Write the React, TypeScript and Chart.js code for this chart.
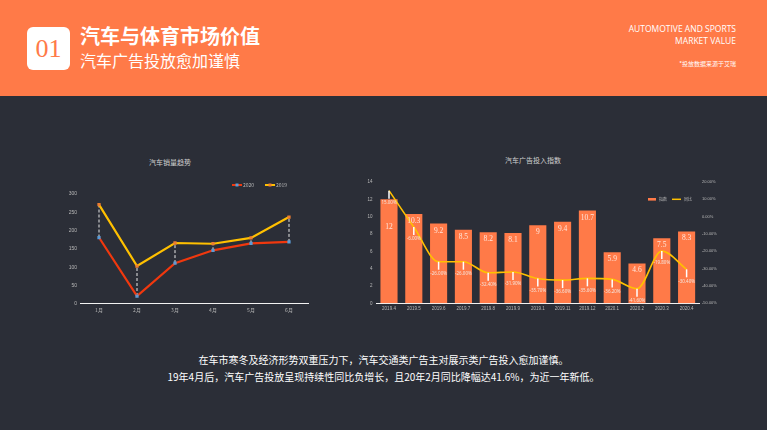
import React, { useEffect, useRef } from 'react';
import { Chart, registerables } from 'chart.js';

Chart.register(...registerables);

// ---------- data ----------
const salesMonths = ['1月', '2月', '3月', '4月', '5月', '6月'];
const sales2020 = [181, 21, 111, 146, 165, 169];
const sales2019 = [271, 103, 166, 164, 180, 237];
const salesSeriesNames = ['2020', '2019'];

const adMonths = ['2019.4', '2019.5', '2019.6', '2019.7', '2019.8', '2019.9', '2019.1', '2019.11', '2019.12', '2020.1', '2020.2', '2020.3', '2020.4'];
const adIndex = [12, 10.3, 9.2, 8.5, 8.2, 8.1, 9, 9.4, 10.7, 5.9, 4.6, 7.5, 8.3];
const adYoY = [15, -6, -26, -26, -32.4, -31.9, -35.7, -36.6, -35.6, -36.2, -41.6, -19.8, -30.4];
const adSeriesNames = ['指数', '同比'];

const ORANGE = '#ff7a48';
const BG = '#2b2e37';
const TICK = '#b8b8b8';
const CJK = '"Noto Sans CJK SC", "Noto Sans", sans-serif';

function SalesChart() {
  const ref = useRef<HTMLCanvasElement>(null);
  useEffect(() => {
    const dropLines = {
      id: 'dropLines',
      beforeDatasetsDraw(chart: any) {
        const ctx = chart.ctx;
        const a = chart.getDatasetMeta(0).data;
        const b = chart.getDatasetMeta(1).data;
        ctx.save();
        ctx.strokeStyle = '#e8e8e8';
        ctx.lineWidth = 1;
        ctx.setLineDash([3, 2]);
        for (let i = 0; i < a.length; i++) {
          ctx.beginPath();
          ctx.moveTo(a[i].x, a[i].y);
          ctx.lineTo(b[i].x, b[i].y);
          ctx.stroke();
        }
        ctx.restore();
      },
    };
    const legend = {
      id: 'salesLegend',
      afterDraw(chart: any) {
        const ctx = chart.ctx;
        const ca = chart.chartArea;
        const y = ca.top - 9;
        const starts = [ca.left + 152, ca.left + 185];
        ctx.save();
        chart.data.datasets.forEach((ds: any, i: number) => {
          const x = starts[i];
          ctx.strokeStyle = ds.borderColor;
          ctx.lineWidth = 2;
          ctx.beginPath();
          ctx.moveTo(x, y);
          ctx.lineTo(x + 10, y);
          ctx.stroke();
          ctx.fillStyle = ds.pointBackgroundColor;
          ctx.fillRect(x + 3.5, y - 1.5, 3, 3);
          ctx.fillStyle = TICK;
          ctx.font = '5px ' + CJK;
          ctx.textBaseline = 'middle';
          ctx.textAlign = 'left';
          ctx.fillText(ds.label, x + 11, y);
        });
        ctx.restore();
      },
    };
    const chart = new Chart(ref.current as HTMLCanvasElement, {
      type: 'line',
      data: {
        labels: salesMonths,
        datasets: [
          {
            label: salesSeriesNames[0],
            data: sales2020,
            borderColor: '#f0380e',
            pointBackgroundColor: '#5b9bd5',
            pointBorderWidth: 0,
            pointStyle: 'rect',
            pointRadius: 2.3,
            borderWidth: 2.2,
            tension: 0,
          },
          {
            label: salesSeriesNames[1],
            data: sales2019,
            borderColor: '#ffc000',
            pointBackgroundColor: '#ed7d31',
            pointBorderWidth: 0,
            pointStyle: 'rect',
            pointRadius: 2.3,
            borderWidth: 2.2,
            tension: 0,
          },
        ],
      },
      options: {
        responsive: false,
        animation: false,
        layout: { padding: { left: 0, top: 44, right: 12, bottom: 0 } },
        plugins: { legend: { display: false }, title: { display: false }, tooltip: { enabled: false } },
        scales: {
          x: {
            offset: true,
            grid: { display: false, drawTicks: false },
            border: { display: true, color: '#f2f2f2', width: 1 },
            ticks: { color: TICK, font: { size: 5, family: CJK }, padding: 3 },
            afterFit(s: any) { s.height = 16.3; },
          },
          y: {
            min: 0,
            max: 300,
            grid: { display: false, drawTicks: false },
            border: { display: false },
            ticks: { stepSize: 50, color: TICK, font: { size: 5 }, padding: 3 },
            afterFit(s: any) { s.width = 40; },
          },
        },
      },
      plugins: [dropLines, legend],
    } as any);
    return () => chart.destroy();
  }, []);
  return (
    <canvas
      ref={ref}
      width={280}
      height={170}
      style={{ position: 'absolute', left: 40, top: 150, width: 280, height: 170 }}
    />
  );
}

function AdChart() {
  const ref = useRef<HTMLCanvasElement>(null);
  useEffect(() => {
    const labels = {
      id: 'adLabels',
      afterDatasetsDraw(chart: any) {
        const ctx = chart.ctx;
        const bars = chart.getDatasetMeta(0).data;
        const pts = chart.getDatasetMeta(1).data;
        ctx.save();
        const yoyLabelY: number[] = [];
        pts.forEach((p: any, i: number) => {
          ctx.strokeStyle = '#ffffff';
          ctx.lineWidth = 1.5;
          ctx.beginPath();
          ctx.moveTo(p.x, p.y);
          ctx.lineTo(p.x, p.y + 8);
          ctx.stroke();
          const ly = p.y + 12;
          yoyLabelY.push(ly);
          ctx.fillStyle = '#f4e4dc';
          ctx.font = '4.5px "Noto Sans", sans-serif';
          ctx.textAlign = 'center';
          ctx.textBaseline = 'middle';
          ctx.fillText(adYoY[i].toFixed(2) + '%', p.x, ly);
        });
        bars.forEach((b: any, i: number) => {
          let y = b.y + 7;
          if (Math.abs(y - yoyLabelY[i]) < 8) y = yoyLabelY[i] + 24;
          ctx.fillStyle = '#ffe6dc';
          ctx.font = '7.5px "Liberation Serif", serif';
          ctx.textAlign = 'center';
          ctx.textBaseline = 'middle';
          ctx.fillText(String(adIndex[i]), b.x, y);
        });
        ctx.restore();
      },
    };
    const legend = {
      id: 'adLegend',
      afterDraw(chart: any) {
        const ctx = chart.ctx;
        const ca = chart.chartArea;
        const y = ca.top + 17.3;
        const x0 = ca.right - 51;
        ctx.save();
        ctx.fillStyle = ORANGE;
        ctx.fillRect(x0, y - 1.3, 8, 2.6);
        ctx.strokeStyle = '#ffc000';
        ctx.lineWidth = 1.5;
        ctx.beginPath();
        ctx.moveTo(x0 + 24, y);
        ctx.lineTo(x0 + 33, y);
        ctx.stroke();
        ctx.fillStyle = TICK;
        ctx.font = '4px ' + CJK;
        ctx.textBaseline = 'middle';
        ctx.textAlign = 'left';
        ctx.fillText(chart.data.datasets[0].label, x0 + 11, y);
        ctx.fillText(chart.data.datasets[1].label, x0 + 36, y);
        ctx.restore();
      },
    };
    const chart = new Chart(ref.current as HTMLCanvasElement, {
      data: {
        labels: adMonths,
        datasets: [
          {
            type: 'bar',
            label: adSeriesNames[0],
            data: adIndex,
            backgroundColor: ORANGE,
            barPercentage: 0.69,
            categoryPercentage: 1,
            yAxisID: 'y',
            order: 1,
          },
          {
            type: 'line',
            label: adSeriesNames[1],
            data: adYoY,
            borderColor: '#ffc000',
            borderWidth: 1.6,
            pointRadius: 0,
            tension: 0.4,
            cubicInterpolationMode: 'monotone',
            yAxisID: 'y1',
            order: 0,
          },
        ],
      },
      options: {
        responsive: false,
        animation: false,
        layout: { padding: { left: 0, top: 32, right: 0, bottom: 0 } },
        plugins: { legend: { display: false }, title: { display: false }, tooltip: { enabled: false } },
        scales: {
          x: {
            grid: { display: false, drawTicks: false },
            border: { display: true, color: '#f2f2f2', width: 1 },
            ticks: { color: TICK, font: { size: 4.5 }, padding: 3, autoSkip: false, maxRotation: 0 },
            afterFit(s: any) { s.height = 16.7; },
          },
          y: {
            position: 'left',
            min: 0,
            max: 14,
            grid: { display: false, drawTicks: false },
            border: { display: false },
            ticks: { stepSize: 2, color: TICK, font: { size: 4.5 }, padding: 4 },
            afterFit(s: any) { s.width = 36.6; },
          },
          y1: {
            position: 'right',
            min: -50,
            max: 20,
            grid: { display: false, drawTicks: false },
            border: { display: false },
            ticks: {
              stepSize: 10,
              color: TICK,
              font: { size: 4 },
              padding: 3,
              callback: (v: any) => Number(v).toFixed(2) + '%',
            },
            afterFit(s: any) { s.width = 31; },
          },
        },
      },
      plugins: [labels, legend],
    } as any);
    return () => chart.destroy();
  }, []);
  return (
    <canvas
      ref={ref}
      width={390}
      height={170}
      style={{ position: 'absolute', left: 340, top: 150, width: 390, height: 170 }}
    />
  );
}

export default function App() {
  const abs = (s: React.CSSProperties): React.CSSProperties => ({ position: 'absolute', whiteSpace: 'nowrap', ...s });
  return (
    <div style={{ position: 'absolute', left: 0, top: 0, width: 767, height: 430, background: BG, overflow: 'hidden', fontFamily: CJK }}>
      <div style={abs({ left: 0, top: 0, width: 767, height: 96, background: ORANGE })} />
      <div
        style={abs({
          left: 27, top: 27, width: 43, height: 43, background: '#fff', borderRadius: 6,
          color: ORANGE, fontFamily: '"Liberation Serif", serif', fontSize: 26, lineHeight: '43px', textAlign: 'center',
        })}
      >01</div>
      <div style={abs({ left: 80, top: 24, fontSize: 20, lineHeight: '24px', fontWeight: 700, color: '#fff' })}>汽车与体育市场价值</div>
      <div style={abs({ left: 80, top: 50, fontSize: 16, lineHeight: '20px', color: '#fff' })}>汽车广告投放愈加谨慎</div>
      <div style={abs({ right: 31, top: 23, fontSize: 8.5, lineHeight: '12px', color: '#fff', textAlign: 'right', fontFamily: '"Open Sans", "Noto Sans", sans-serif' })}>
        AUTOMOTIVE AND SPORTS<br />MARKET VALUE
      </div>
      <div style={abs({ right: 31, top: 60, fontSize: 6, lineHeight: '8px', color: '#fff' })}>*投放数据来源于艾瑞</div>

      <div style={abs({ left: 120, top: 156, width: 100, textAlign: 'center', fontSize: 7, lineHeight: '12px', color: '#d0d0d0' })}>汽车销量趋势</div>
      <div style={abs({ left: 483, top: 154, width: 100, textAlign: 'center', fontSize: 7, lineHeight: '12px', color: '#d0d0d0' })}>汽车广告投入指数</div>

      <SalesChart />
      <AdChart />

      <div style={abs({ left: 0, width: 767, top: 352, textAlign: 'center', fontSize: 10, lineHeight: '15px', color: '#fff' })}>
        在车市寒冬及经济形势双重压力下，汽车交通类广告主对展示类广告投入愈加谨慎。
      </div>
      <div style={abs({ left: 0, width: 767, top: 369, textAlign: 'center', fontSize: 10, lineHeight: '15px', color: '#fff' })}>
        19年4月后，汽车广告投放呈现持续性同比负增长，且20年2月同比降幅达41.6%，为近一年新低。
      </div>
    </div>
  );
}
